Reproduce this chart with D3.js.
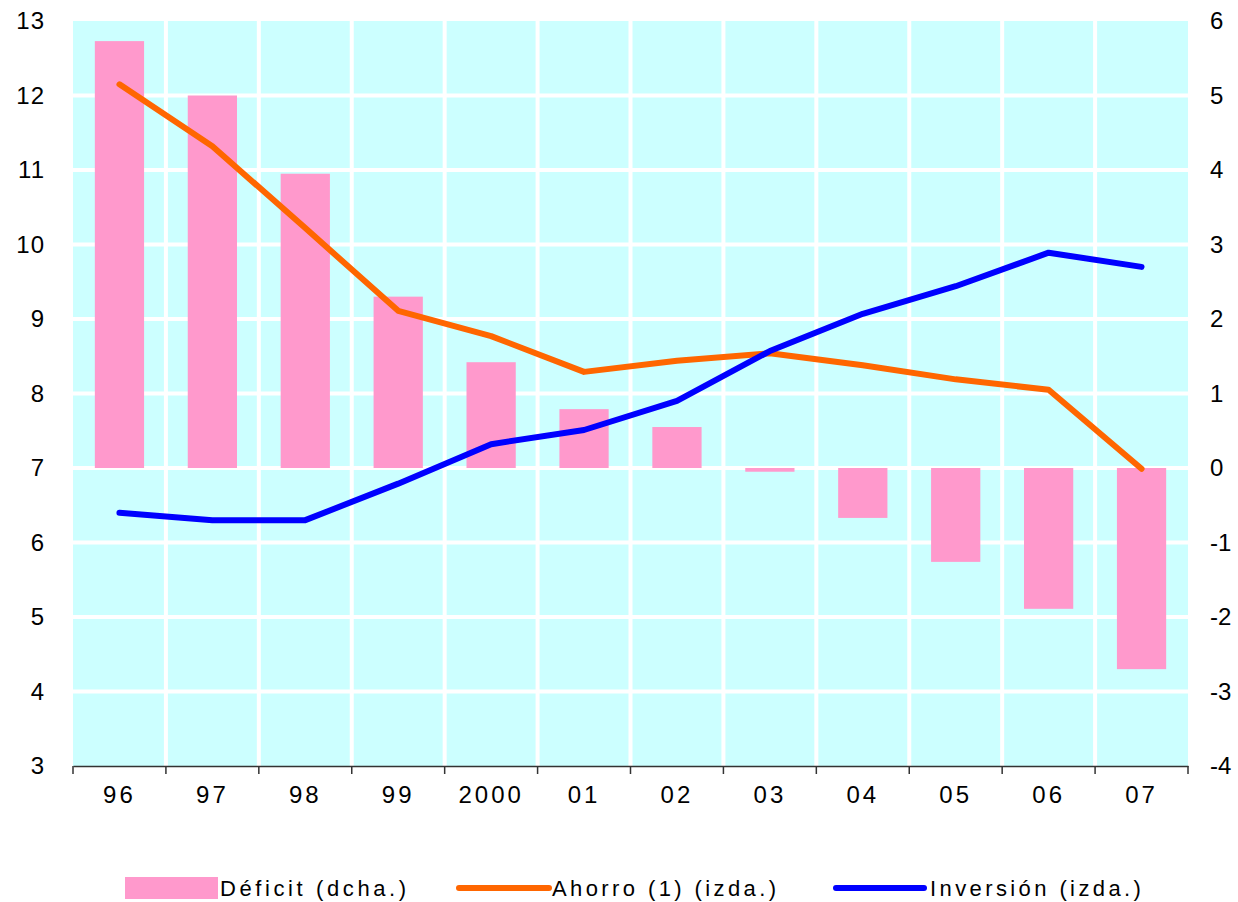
<!DOCTYPE html>
<html>
<head>
<meta charset="utf-8">
<script src="https://cdn.jsdelivr.net/npm/d3@7"></script>
<style>
  body { margin: 0; background: #fff; }
  text { font-family: Arial, "Liberation Sans", sans-serif; fill: #000; }
</style>
</head>
<body>
<div id="chart"></div>
<script>
// chart values
const years = ['96', '97', '98', '99', '2000', '01', '02', '03', '04', '05', '06', '07'];
const deficit = [5.73, 5.0, 3.95, 2.3, 1.42, 0.79, 0.55, -0.05, -0.67, -1.26, -1.89, -2.7];
const ahorro = [12.15, 11.32, 10.22, 9.11, 8.77, 8.29, 8.44, 8.54, 8.38, 8.19, 8.05, 6.99];
const inversion = [6.40, 6.30, 6.30, 6.79, 7.32, 7.51, 7.90, 8.57, 9.07, 9.44, 9.89, 9.70];
const leftTicks = [3, 4, 5, 6, 7, 8, 9, 10, 11, 12, 13];
const rightTicks = [-4, -3, -2, -1, 0, 1, 2, 3, 4, 5, 6];

const W = 1238, H = 902;
const margin = { top: 21, right: 50, bottom: 136, left: 73 };
const width = W - margin.left - margin.right;
const height = H - margin.top - margin.bottom;

const svg = d3.select('#chart').append('svg')
  .attr('width', W)
  .attr('height', H);

const g = svg.append('g')
  .attr('transform', `translate(${margin.left},${margin.top})`);

const x = d3.scaleBand().domain(years).range([0, width]).paddingInner(0).paddingOuter(0);
const yL = d3.scaleLinear().domain([3, 13]).range([height, 0]);
const yR = d3.scaleLinear().domain([-4, 6]).range([height, 0]);

// background
g.append('rect')
  .attr('width', width)
  .attr('height', height)
  .attr('fill', '#ccffff');

// white grid
g.selectAll('.hgrid')
  .data(leftTicks.filter(d => d > 3 && d < 13))
  .enter().append('line')
  .attr('x1', 0).attr('x2', width)
  .attr('y1', d => yL(d)).attr('y2', d => yL(d))
  .attr('stroke', '#fff').attr('stroke-width', 4);

g.selectAll('.vgrid')
  .data(years.slice(1))
  .enter().append('line')
  .attr('x1', d => x(d)).attr('x2', d => x(d))
  .attr('y1', 0).attr('y2', height)
  .attr('stroke', '#fff').attr('stroke-width', 4);

// bars (right axis)
const barW = x.bandwidth() * 0.53;
g.selectAll('.bar')
  .data(deficit)
  .enter().append('rect')
  .attr('x', (d, i) => x(years[i]) + (x.bandwidth() - barW) / 2)
  .attr('width', barW)
  .attr('y', d => yR(Math.max(0, d)))
  .attr('height', d => Math.max(3, Math.abs(yR(d) - yR(0))))
  .attr('fill', '#ff99cc');

// lines (left axis)
const line = d3.line()
  .x((d, i) => x(years[i]) + x.bandwidth() / 2)
  .y(d => yL(d));

g.append('path').datum(ahorro)
  .attr('d', line)
  .attr('fill', 'none')
  .attr('stroke', '#ff6600')
  .attr('stroke-width', 6)
  .attr('stroke-linecap', 'round')
  .attr('stroke-linejoin', 'round');

g.append('path').datum(inversion)
  .attr('d', line)
  .attr('fill', 'none')
  .attr('stroke', '#0000ff')
  .attr('stroke-width', 6)
  .attr('stroke-linecap', 'round')
  .attr('stroke-linejoin', 'round');

// x axis
const xAxis = g.append('g')
  .attr('transform', `translate(0,${height})`)
  .call(d3.axisBottom(x).tickSize(0).tickPadding(20));
xAxis.select('.domain').attr('stroke', '#333').attr('stroke-width', 1.5);
xAxis.selectAll('text')
  .attr('font-size', 24)
  .attr('letter-spacing', 3)
  .attr('font-family', 'Arial, "Liberation Sans", sans-serif');

g.selectAll('.xtick')
  .data(years.concat(['end']))
  .enter().append('line')
  .attr('x1', (d, i) => i * x.step())
  .attr('x2', (d, i) => i * x.step())
  .attr('y1', height)
  .attr('y2', height + 8)
  .attr('stroke', '#333')
  .attr('stroke-width', 1.5);

// left axis
const leftAxis = g.append('g')
  .call(d3.axisLeft(yL).tickValues(leftTicks).tickSize(0).tickPadding(28));
leftAxis.select('.domain').remove();
leftAxis.selectAll('text')
  .attr('font-size', 24)
  .attr('letter-spacing', 1)
  .attr('font-family', 'Arial, "Liberation Sans", sans-serif');

// right axis
const rightAxis = g.append('g')
  .attr('transform', `translate(${width},0)`)
  .call(d3.axisRight(yR).tickValues(rightTicks).tickFormat(d => String(d)).tickSize(0).tickPadding(22));
rightAxis.select('.domain').remove();
rightAxis.selectAll('text')
  .attr('font-size', 24)
  .attr('font-family', 'Arial, "Liberation Sans", sans-serif');

// legend
const legendY = 888;
const legend = svg.append('g');
legend.append('rect')
  .attr('x', 125).attr('y', 877).attr('width', 93).attr('height', 22)
  .attr('fill', '#ff99cc');
legend.append('text')
  .attr('x', 220).attr('y', legendY).attr('dy', '0.35em')
  .attr('font-size', 22).attr('letter-spacing', 3.6)
  .text('Déficit (dcha.)');

legend.append('line')
  .attr('x1', 459).attr('x2', 549).attr('y1', legendY).attr('y2', legendY)
  .attr('stroke', '#ff6600').attr('stroke-width', 6).attr('stroke-linecap', 'round');
legend.append('text')
  .attr('x', 552).attr('y', legendY).attr('dy', '0.35em')
  .attr('font-size', 22).attr('letter-spacing', 3.4)
  .text('Ahorro (1) (izda.)');

legend.append('line')
  .attr('x1', 836).attr('x2', 924).attr('y1', legendY).attr('y2', legendY)
  .attr('stroke', '#0000ff').attr('stroke-width', 6).attr('stroke-linecap', 'round');
legend.append('text')
  .attr('x', 930).attr('y', legendY).attr('dy', '0.35em')
  .attr('font-size', 22).attr('letter-spacing', 3.4)
  .text('Inversión (izda.)');
</script>
</body>
</html>
